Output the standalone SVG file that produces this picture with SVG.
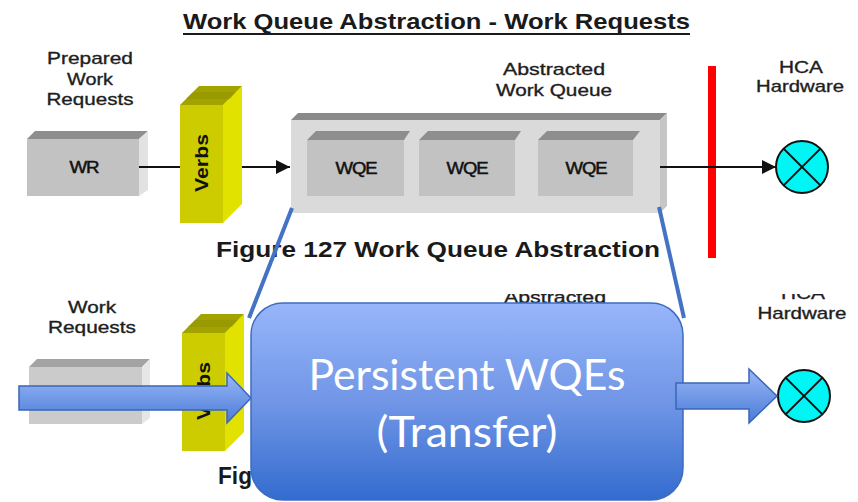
<svg xmlns="http://www.w3.org/2000/svg" width="858" height="502" viewBox="0 0 858 502">
  <defs>
    <style>
      .lbl { font-family: "Liberation Sans", Arial, sans-serif; font-size: 17px; fill: #1e1e1e; stroke: #1e1e1e; stroke-width: 0.35; text-anchor: middle; }
      .box-lbl { font-family: "Liberation Sans", Arial, sans-serif; font-size: 17px; fill: #111; stroke: #111; stroke-width: 0.5; text-anchor: middle; letter-spacing: -1px; }
      .verbs-lbl { font-family: "Liberation Sans", Arial, sans-serif; font-size: 18px; font-weight: bold; fill: #111; text-anchor: middle; }
      .title { font-family: "Liberation Sans", Arial, sans-serif; font-weight: bold; fill: #1a1a1a; }
      .front { fill: #c2c2c2; }
      .top { fill: #8e8e8e; }
      .side { fill: #e2e2e2; }
      .v-front { fill: #cccc00; }
      .v-top { fill: #a3a300; }
      .v-side { fill: #e2e200; }
      .wire { stroke: #111; stroke-width: 2; fill: none; }
      .hca { fill: #00f5f5; stroke: #111; stroke-width: 2; }
      .bar { fill: #ff0000; }
      .zoom { stroke: #4472c4; stroke-width: 4; fill: none; }
      .blk { fill: url(#arrowGrad); stroke: #3a66b8; stroke-width: 1.5; }
      .big { font-family: Lato, "Open Sans", sans-serif; font-size: 42px; fill: #ffffff; text-anchor: middle; }
    </style>
    <marker id="tri" viewBox="0 0 10 10" refX="10" refY="5" markerWidth="14" markerHeight="14" markerUnits="userSpaceOnUse" orient="auto">
      <path d="M0,0 L10,5 L0,10 z" fill="#111"/>
    </marker>
    <linearGradient id="blueGrad" x1="0" y1="0" x2="0" y2="1">
      <stop offset="0" stop-color="#97b5fa"/>
      <stop offset="0.5" stop-color="#7196e6"/>
      <stop offset="1" stop-color="#336ccf"/>
    </linearGradient>
    <linearGradient id="arrowGrad" x1="0" y1="0" x2="0" y2="1">
      <stop offset="0" stop-color="#9ab8f8"/>
      <stop offset="1" stop-color="#4a7bd6"/>
    </linearGradient>
    <clipPath id="lowerClip">
      <rect x="0" y="294" width="858" height="208"/>
    </clipPath>
  </defs>

  <!-- Title -->
  <g id="title">
    <text class="title" x="183" y="29" font-size="22" textLength="507" lengthAdjust="spacingAndGlyphs">Work Queue Abstraction - Work Requests</text>
    <rect x="183" y="33" width="507" height="2" fill="#1a1a1a"/>
  </g>

  <!-- Upper figure -->
  <g id="wr-label">
    <text class="lbl" x="90" y="64" textLength="86" lengthAdjust="spacingAndGlyphs">Prepared</text>
    <text class="lbl" x="90" y="85" textLength="46" lengthAdjust="spacingAndGlyphs">Work</text>
    <text class="lbl" x="90" y="105" textLength="87" lengthAdjust="spacingAndGlyphs">Requests</text>
  </g>

  <g id="wr">
    <polygon class="top" points="27,139 35,131 148,131 139,139"/>
    <polygon class="side" points="139,139 148,131 148,190 139,196"/>
    <rect class="front" x="27" y="139" width="112" height="57"/>
    <text class="box-lbl" x="84" y="173" textLength="29" lengthAdjust="spacingAndGlyphs">WR</text>
  </g>

  <g id="verbs">
    <polygon class="v-side" points="223,105 242,86 242,204 223,223"/>
    <polygon class="v-top" points="180,105 199,86 242,86 223,105"/>
    <polygon fill="#8f8f00" points="186,99 193,92 236,92 230,99" opacity="0.45"/>
    <rect class="v-front" x="180" y="105" width="43" height="118"/>
    <text class="verbs-lbl" x="0" y="0" transform="translate(208,163) rotate(-90)" textLength="58" lengthAdjust="spacingAndGlyphs">Verbs</text>
  </g>

  <g id="wq-label">
    <text class="lbl" x="554" y="75" textLength="102" lengthAdjust="spacingAndGlyphs">Abstracted</text>
    <text class="lbl" x="554" y="96" textLength="116" lengthAdjust="spacingAndGlyphs">Work Queue</text>
  </g>

  <g id="work-queue">
    <polygon fill="#8a8a8a" points="291,120 298,113 667,113 660,120"/>
    <polygon fill="#c6c6c6" points="660,120 667,113 667,206 660,213"/>
    <rect fill="#dadada" x="291" y="120" width="369" height="93"/>
  </g>

  <g id="wqe-1">
    <polygon class="top" points="307,140 316,131 410,131 404,140"/>
    <rect class="front" x="307" y="140" width="97" height="56"/>
    <text class="box-lbl" x="356" y="174" textLength="41" lengthAdjust="spacingAndGlyphs">WQE</text>
  </g>
  <g id="wqe-2">
    <polygon class="top" points="419,140 428,131 521,131 515,140"/>
    <rect class="front" x="419" y="140" width="96" height="56"/>
    <text class="box-lbl" x="467" y="174" textLength="41" lengthAdjust="spacingAndGlyphs">WQE</text>
  </g>
  <g id="wqe-3">
    <polygon class="top" points="538,140 547,131 640,131 633,140"/>
    <rect class="front" x="538" y="140" width="95" height="56"/>
    <text class="box-lbl" x="586" y="174" textLength="41" lengthAdjust="spacingAndGlyphs">WQE</text>
  </g>

  <g id="boundary">
    <rect class="bar" x="708" y="66" width="8" height="192"/>
  </g>

  <g id="hca-label">
    <text class="lbl" x="801" y="73" textLength="44" lengthAdjust="spacingAndGlyphs">HCA</text>
    <text class="lbl" x="800" y="92" textLength="88" lengthAdjust="spacingAndGlyphs">Hardware</text>
  </g>

  <g id="hca">
    <circle class="hca" cx="802" cy="167" r="26"/>
    <path class="wire" d="M783.6,148.6 L820.4,185.4 M820.4,148.6 L783.6,185.4"/>
  </g>

  <g id="caption">
    <text class="title" x="216" y="257" font-size="22" textLength="444" lengthAdjust="spacingAndGlyphs">Figure 127  Work Queue Abstraction</text>
  </g>

  <!-- Lower figure (partly covered) -->
  <g id="lower-figure" clip-path="url(#lowerClip)">
    <g id="wr-label-2">
      <text class="lbl" x="92" y="313" textLength="48" lengthAdjust="spacingAndGlyphs">Work</text>
      <text class="lbl" x="92" y="333" textLength="88" lengthAdjust="spacingAndGlyphs">Requests</text>
    </g>
    <g id="wr-2" opacity="0.9">
      <polygon fill="#9a9a9a" points="29,367 37,359 150,359 142,367"/>
      <polygon fill="#e4e4e4" points="142,367 150,359 150,418 142,424"/>
      <rect fill="#c6c6c6" x="29" y="367" width="113" height="57"/>
    </g>
    <g id="verbs-2">
      <polygon class="v-side" points="225,333 244,314 244,432 225,451"/>
      <polygon class="v-top" points="182,333 201,314 244,314 225,333"/>
      <polygon fill="#8f8f00" points="188,327 195,320 238,320 232,327" opacity="0.45"/>
      <rect class="v-front" x="182" y="333" width="43" height="118"/>
      <text class="verbs-lbl" x="0" y="0" transform="translate(210,391) rotate(-90)" textLength="58" lengthAdjust="spacingAndGlyphs">Verbs</text>
    </g>
    <text class="lbl" x="555" y="303" textLength="102" lengthAdjust="spacingAndGlyphs">Abstracted</text>
    <text class="lbl" x="803" y="299" textLength="44" lengthAdjust="spacingAndGlyphs">HCA</text>
    <text class="lbl" x="802" y="319" textLength="89" lengthAdjust="spacingAndGlyphs">Hardware</text>
    <text class="title" x="218" y="484" font-size="24" textLength="34" lengthAdjust="spacingAndGlyphs">Fig</text>
    <g id="hca-2">
      <circle class="hca" cx="804" cy="396" r="26"/>
      <path class="wire" d="M785.6,377.6 L822.4,414.4 M822.4,377.6 L785.6,414.4"/>
    </g>
  </g>

  <!-- Connectors -->
  <g id="connectors">
    <line class="wire" x1="139" y1="167" x2="180" y2="167"/>
    <line class="wire" x1="242" y1="167" x2="290" y2="167" marker-end="url(#tri)"/>
    <line class="wire" x1="660" y1="167" x2="776" y2="167" marker-end="url(#tri)"/>
    <line class="zoom" x1="292" y1="208" x2="249" y2="318"/>
    <line class="zoom" x1="659" y1="207" x2="684" y2="318"/>
    <path id="arrow-in" class="blk" d="M19,386 L227,386 L227,373 L251,398 L227,423 L227,410 L19,410 Z"/>
  </g>

  <!-- Highlight box -->
  <g id="persistent-wqes">
    <rect x="251" y="303" width="432" height="197" rx="32" ry="32" fill="url(#blueGrad)" stroke="#3d6cc0" stroke-width="1.5"/>
    <text class="big" x="467" y="390" textLength="317" lengthAdjust="spacingAndGlyphs">Persistent WQEs</text>
    <text class="big" x="467" y="447" textLength="181" lengthAdjust="spacingAndGlyphs">(Transfer)</text>
  </g>

  <g id="arrow-out-group">
    <path id="arrow-out" class="blk" d="M676,383 L749,383 L749,369 L777,396 L749,423 L749,409 L676,409 Z"/>
  </g>
</svg>
